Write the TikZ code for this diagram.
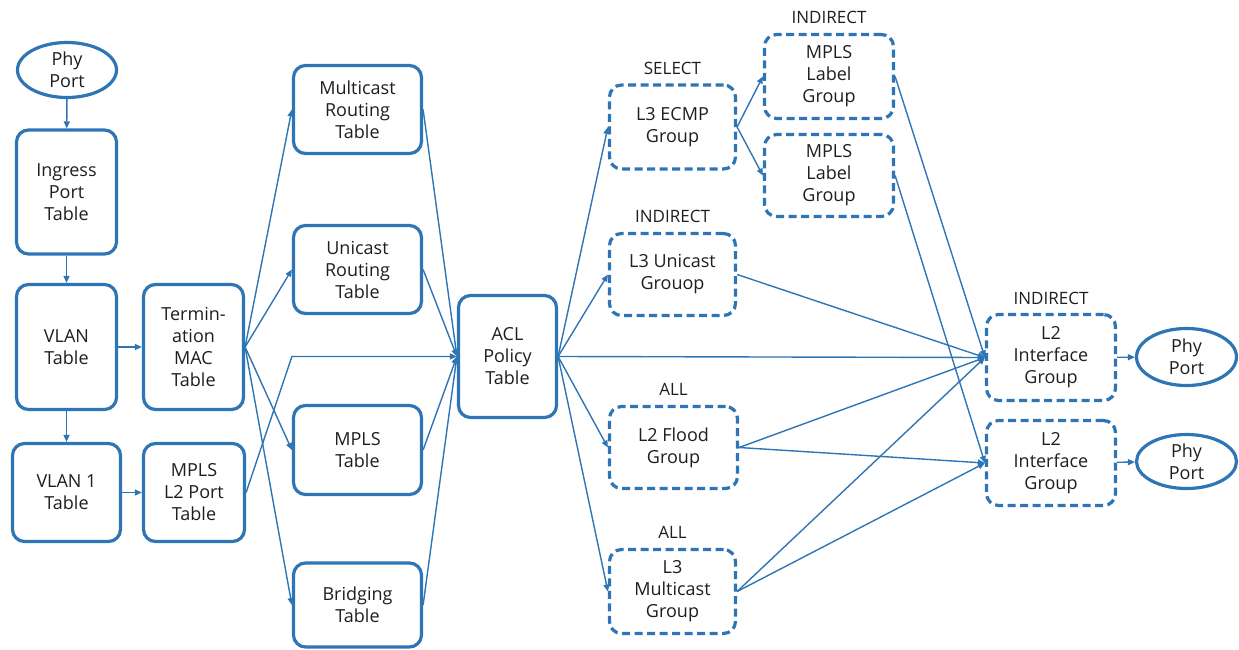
\documentclass[tikz,border=0pt]{standalone}
\usepackage{fontspec}
\setmainfont{Open Sans}
\usetikzlibrary{shapes.geometric,arrows.meta,positioning}
\definecolor{flowblue}{RGB}{46,117,182}
\definecolor{ink}{RGB}{30,30,30}

\begin{document}
\begin{tikzpicture}[x=1pt,y=-1pt,
  base/.style={draw=flowblue, align=center, text=ink, inner sep=0pt,
    font=\fontsize{18}{22}\selectfont},
  tbl/.style={base, rectangle, rounded corners=12pt, line width=3.2pt},
  grp/.style={tbl, dash pattern=on 8pt off 4.5pt},
  port/.style={base, ellipse, line width=3.2pt},
  tag/.style={text=ink, inner sep=0pt, font=\fontsize{17}{20}\selectfont},
  link/.style={draw=flowblue, line width=1.4pt,
    -{Triangle[length=7pt,width=6pt]}},
]
\useasboundingbox (0,0) rectangle (1239,650);

% ingress side
\node[port, minimum width=99pt, minimum height=55pt] (pin) at (67,70) {Phy\\Port};
\node[tbl, minimum width=100pt, minimum height=124pt] (ing) at (66.5,192) {Ingress\\Port\\Table};
\node[tbl, minimum width=100pt, minimum height=125pt] (vlan) at (66.5,347) {VLAN\\Table};
\node[tbl, minimum width=108pt, minimum height=98pt] (vlan1) at (66.5,492.5) {VLAN 1\\Table};
\node[tbl, minimum width=100pt, minimum height=125pt] (term) at (193.5,347) {Termin-\\ation\\MAC\\Table};
\node[tbl, minimum width=101pt, minimum height=98pt] (mpl2) at (194,492.5) {MPLS\\L2 Port\\Table};

% flow tables
\node[tbl, minimum width=128pt, minimum height=88pt] (mcast) at (357.5,109.5) {Multicast\\Routing\\Table};
\node[tbl, minimum width=128pt, minimum height=88pt] (ucast) at (357.5,269.5) {Unicast\\Routing\\Table};
\node[tbl, minimum width=128pt, minimum height=89pt] (mpls) at (357.5,450) {MPLS\\Table};
\node[tbl, minimum width=128pt, minimum height=84pt] (bridge) at (357.5,605) {Bridging\\Table};
\node[tbl, minimum width=98pt, minimum height=122pt] (acl) at (507.5,356.5) {ACL\\Policy\\Table};

% group entries
\node[grp, minimum width=126pt, minimum height=84pt] (ecmp) at (672.5,127) {L3 ECMP\\Group};
\node[grp, minimum width=129pt, minimum height=84pt] (lbla) at (829,76.5) {MPLS\\Label\\Group};
\node[grp, minimum width=129pt, minimum height=82pt] (lblb) at (829,175.5) {MPLS\\Label\\Group};
\node[grp, minimum width=126pt, minimum height=82pt] (l3u) at (672.5,274.5) {L3 Unicast\\Grouop};
\node[grp, minimum width=128pt, minimum height=82pt] (flood) at (673.5,447.5) {L2 Flood\\Group};
\node[grp, minimum width=126pt, minimum height=84pt] (l3m) at (672.5,591.5) {L3\\Multicast\\Group};
\node[grp, minimum width=129pt, minimum height=86pt] (l2a) at (1051,357.5) {L2\\Interface\\Group};
\node[grp, minimum width=129pt, minimum height=85pt] (l2b) at (1051,463) {L2\\Interface\\Group};

% egress ports
\node[port, minimum width=100pt, minimum height=57pt] (pouta) at (1186.5,357) {Phy\\Port};
\node[port, minimum width=100pt, minimum height=54pt] (poutb) at (1186.5,461.5) {Phy\\Port};

% group type tags
\node[tag, above=9pt of ecmp] (tecmp) {SELECT};
\node[tag, above=9pt of lbla] (tlbla) {INDIRECT};
\node[tag, above=9pt of l3u] (tl3u) {INDIRECT};
\node[tag, above=9pt of flood] (tflood) {ALL};
\node[tag, above=9pt of l3m] (tl3m) {ALL};
\node[tag, above=8pt of l2a] (tl2a) {INDIRECT};

% pipeline connectors
\draw[link] (pin) -- (ing);
\draw[link] (ing) -- (vlan);
\draw[link] (vlan) -- (vlan1);
\draw[link] (vlan) -- (term);
\draw[link] (vlan1) -- (mpl2);

\draw[link] (term.east) -- (mcast.west);
\draw[link] (term.east) -- (ucast.west);
\draw[link] (term.east) -- (mpls.west);
\draw[link] (term.east) -- (bridge.west);
\draw[link] (mpl2.east) -- (mcast.west |- acl.west) -- (acl.west);

\draw[link] (mcast.east) -- (acl.west);
\draw[link] (ucast.east) -- (acl.west);
\draw[link] (mpls.east) -- (acl.west);
\draw[link] (bridge.east) -- (acl.west);

\draw[link] (acl.east) -- (ecmp.west);
\draw[link] (acl.east) -- (l3u.west);
\draw[link] (acl.east) -- (l2a.west);
\draw[link] (acl.east) -- (flood.west);
\draw[link] (acl.east) -- (l3m.west);

\draw[link] (ecmp.east) -- (lbla.west);
\draw[link] (ecmp.east) -- (lblb.west);

\draw[link] (lbla.east) -- (l2a.west);
\draw[link] (lblb.east) -- (l2b.west);
\draw[link] (l3u.east) -- (l2a.west);
\draw[link] (flood.east) -- (l2a.west);
\draw[link] (flood.east) -- (l2b.west);
\draw[link] (l3m.east) -- (l2a.west);
\draw[link] (l3m.east) -- (l2b.west);

\draw[link] (l2a) -- (pouta);
\draw[link] (l2b) -- (poutb);
\end{tikzpicture}
\end{document}
